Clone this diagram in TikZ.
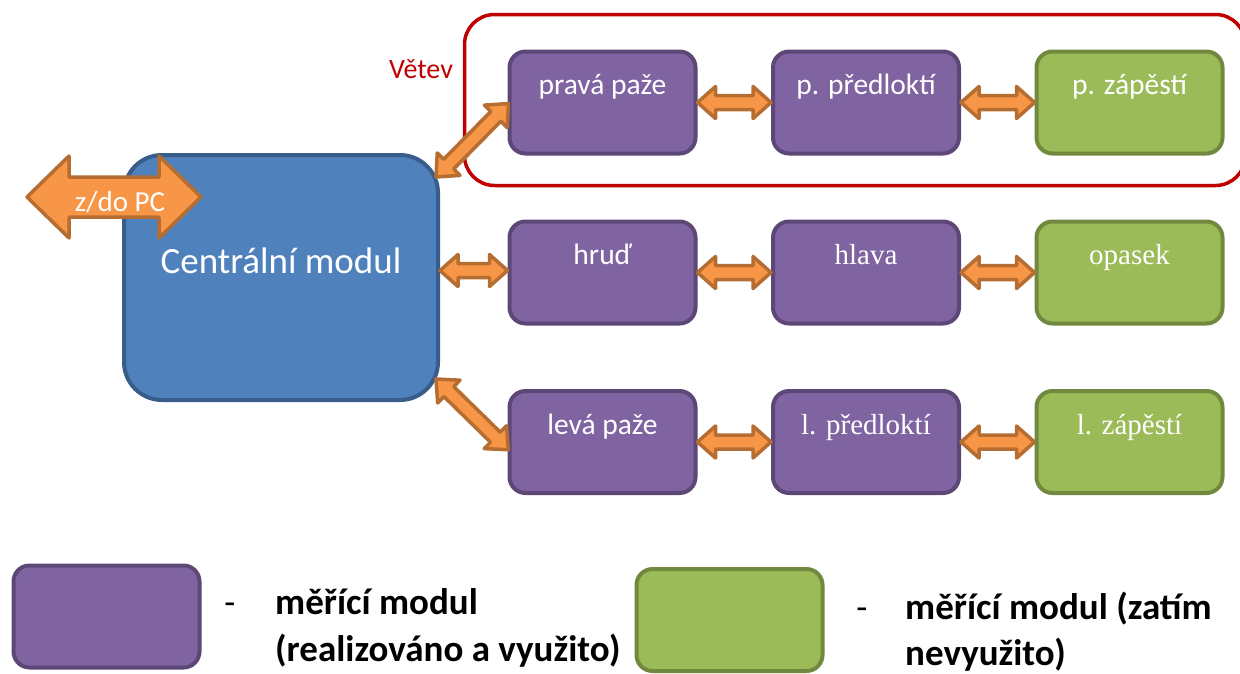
\documentclass[tikz,border=0pt]{standalone}
\usepackage{fontspec}
\setmainfont{Carlito}
\newfontfamily\timesface{Liberation Serif}
\usetikzlibrary{calc}

\definecolor{centralfill}{HTML}{4F81BD}
\definecolor{centralline}{HTML}{385D8A}
\definecolor{usedfill}{HTML}{8064A2}
\definecolor{usedline}{HTML}{5C4776}
\definecolor{sparefill}{HTML}{9BBB59}
\definecolor{spareline}{HTML}{71893F}
\definecolor{linkfill}{HTML}{F79646}
\definecolor{linkline}{HTML}{B66D31}
\definecolor{branchred}{HTML}{C00000}

\tikzset{
  module/.style={draw, line width=4pt, rounded corners=16pt,
    minimum width=186pt, minimum height=102pt, inner sep=0pt,
    text=white, font=\fontsize{29.5}{31}\selectfont,
    text height=20pt, text depth=36pt},
  usedmod/.style={module, fill=usedfill, draw=usedline},
  sparemod/.style={module, fill=sparefill, draw=spareline},
  serifmod/.style={font=\timesface\fontsize{29}{31}\selectfont},
  flowarrow/.style={fill=linkfill, draw=linkline, line width=3.5pt, line join=round},
  legendtext/.style={font=\bfseries\fontsize{37}{40}\selectfont, anchor=base west, inner sep=0pt},
  legenddash/.style={font=\fontsize{36}{38}\selectfont, anchor=base, inner sep=0pt}
}

% double-headed block arrow between two points:
% #1 start, #2 end, #3 shaft half-width, #4 head half-width, #5 head length
\newcommand\duplexarrow[5]{%
  \draw[flowarrow] let \p1=#1, \p2=#2,
    \n1={atan2(\y2-\y1,\x2-\x1)}, \n2={veclen(\x2-\x1,\y2-\y1)} in
    [shift={(\p1)}, rotate=\n1]
    (0,0) -- (#5,#4) -- (#5,#3) -- ({\n2-#5},#3) -- ({\n2-#5},#4) -- (\n2,0)
    -- ({\n2-#5},-#4) -- ({\n2-#5},-#3) -- (#5,-#3) -- (#5,-#4) -- cycle;}

\begin{document}
\begin{tikzpicture}[x=1pt, y=-1pt]
\useasboundingbox (0,0) rectangle (1240,673);
\clip (0,0) rectangle (1240,673);
\fill[white] (0,0) rectangle (1240,673);

% branch frame
\node[draw=branchred, line width=3.5pt, rounded corners=30pt,
      minimum width=781pt, minimum height=171pt] (branch) at (855,100) {};
\node[text=branchred, font=\fontsize{28}{30}\selectfont, anchor=base] (branchlabel) at (421,78) {Větev};

% central module
\node[draw=centralline, fill=centralfill, line width=4pt, rounded corners=38pt,
      minimum width=314pt, minimum height=245pt, inner sep=0pt,
      text=white, font=\fontsize{37}{40}\selectfont,
      text height=26pt, text depth=35pt] (central) at (281,277.5) {Centrální modul};

% measuring modules
\node[usedmod]  (rarm)   at (602.5,102.5) {pravá paže};
\node[usedmod]  (rfore)  at (866,102.5)   {p. předloktí};
\node[sparemod] (rwrist) at (1129.5,102.5){p. zápěstí};

\node[usedmod]  (chest) at (602.5,272.5) {hruď};
\node[usedmod, serifmod]  (head)  at (866,272.5)   {hlava};
\node[sparemod, serifmod] (belt)  at (1129.5,272.5){opasek};

\node[usedmod]  (larm)   at (602.5,442) {levá paže};
\node[usedmod, serifmod]  (lfore)  at (866,442)   {l. předloktí};
\node[sparemod, serifmod] (lwrist) at (1129.5,442){l. zápěstí};

% links along each chain
\duplexarrow{(rarm.east)}{(rfore.west)}{7}{16}{18}
\duplexarrow{(rfore.east)}{(rwrist.west)}{7}{16}{18}
\duplexarrow{(chest.east)}{(head.west)}{7}{16}{18}
\duplexarrow{(head.east)}{(belt.west)}{7}{16}{18}
\duplexarrow{(larm.east)}{(lfore.west)}{7}{16}{18}
\duplexarrow{(lfore.east)}{(lwrist.west)}{7}{16}{18}

% links from the central module
\duplexarrow{($(central.north east)+(-4,24)$)}{($(rarm.west)+(1,1)$)}{7}{16}{18}
\duplexarrow{($(central.east |- chest.west)+(0,-2)$)}{($(chest.west)+(0,-2)$)}{7}{16}{18}
\duplexarrow{($(central.south east)+(-4,-23)$)}{($(larm.west)+(1,8)$)}{7}{16}{18}

% link to the PC
\coordinate (pcfar) at (27,197);
\coordinate (pcnear) at (201,197);
\duplexarrow{(pcfar)}{(pcnear)}{20}{41}{42}
\node[text=white, font=\fontsize{29}{30}\selectfont, anchor=base] (pclabel) at (120,211) {z/do PC};

% legend
\node[usedmod, text height=0pt, text depth=0pt] (keyused) at (106.5,616.5) {};
\node[legenddash] (dashused) at (230,614) {-};
\node[legendtext] (keyusedA) at (275,614) {měřící modul};
\node[legendtext] (keyusedB) at (275,661) {(realizováno a využito)};

\node[sparemod, text height=0pt, text depth=0pt] (keyspare) at (729.5,620) {};
\node[legenddash] (dashspare) at (862,619) {-};
\node[legendtext] (keyspareA) at (905,619) {měřící modul (zatím};
\node[legendtext] (keyspareB) at (905,665) {nevyužito)};
\end{tikzpicture}
\end{document}
